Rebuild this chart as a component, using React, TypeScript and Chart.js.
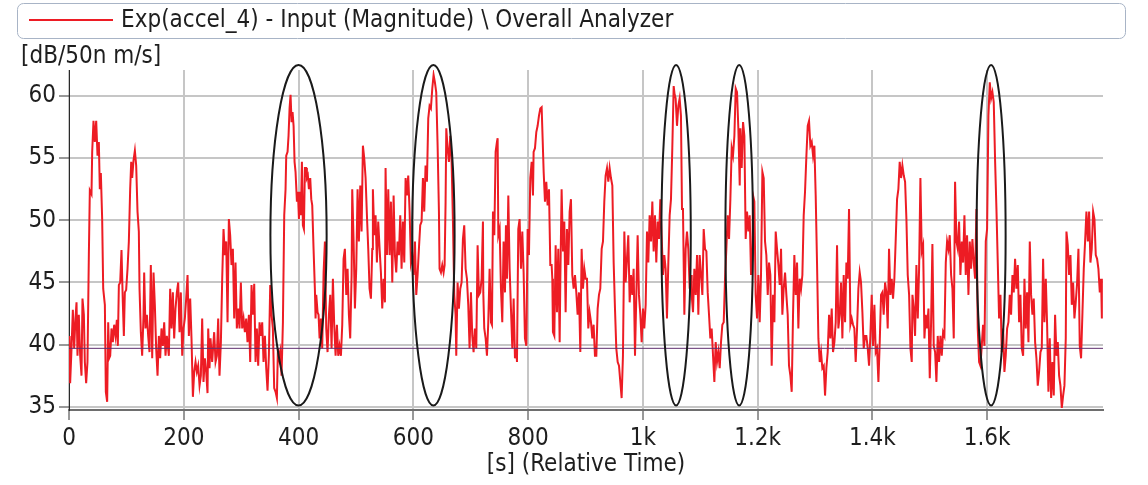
import React, { useEffect, useRef } from "react";
import { Chart, registerables } from "chart.js";

Chart.register(...registerables);

// Overall level of accel_4 over the run, seconds (relative time) and dB re 50n m/s.
const timeSeconds: number[] = [
  1, 2, 4.4, 6.7, 9, 11.3, 13.1, 14.8, 17.1, 19.5,
  21.8, 23.5, 25.9, 27.6, 29.9, 32.2, 34.6, 36.3, 39.2, 40.4,
  42.7, 45, 47.4, 49.7, 52, 53.7, 55.5, 57.8, 59.6, 62.5,
  64.2, 66.5, 68.3, 70, 71.8, 74.1, 76.4, 78.7, 81.1, 83.4,
  85.1, 86.9, 89.2, 91.5, 93.8, 95.6, 97.3, 99.6, 102, 104.3,
  106.6, 108.4, 110.1, 112.4, 114.8, 117.1, 119.4, 121.7, 122.9, 125.2,
  127.5, 129.9, 131, 133.3, 135.7, 138, 140.3, 142.6, 145, 147.3,
  149.6, 151.9, 154.3, 156.6, 158.9, 161.2, 163.6, 165.9, 168.2, 170.5,
  174, 176.3, 178.7, 181, 183.3, 185.6, 188, 190.3, 192.6, 194.9,
  197.3, 199.6, 201.9, 204.2, 206.6, 208.9, 211.2, 213.5, 215.9, 218.2,
  220.5, 222.8, 225.1, 227.5, 229.8, 232.1, 234.4, 236.8, 239.1, 241.4,
  242.6, 244.9, 246.6, 249.5, 253, 255.4, 257.7, 260, 262.3, 264.7,
  267, 269.3, 271.6, 274, 276.3, 278.6, 280.9, 283.2, 285.6, 287.9,
  290.2, 292.5, 294.9, 297.2, 299.5, 301.8, 304.2, 306.5, 308.8, 311.1,
  313.5, 315.8, 318.1, 320.4, 322.8, 325.1, 327.4, 329.7, 332.1, 334.4,
  336.7, 339, 341.4, 343.7, 346, 348.3, 350.7, 353, 355.3, 357.6,
  360, 362.3, 364.1, 366.4, 368.1, 370.4, 372.8, 375.1, 377.4, 378.6,
  380.9, 382.6, 384.4, 386.1, 387.9, 389.6, 391.4, 393.1, 394.8, 397.2,
  398.9, 400.7, 402.4, 404.1, 405.9, 407.6, 409.4, 411.1, 413.4, 414.6,
  416.3, 418.1, 420.4, 422.2, 423.9, 426.2, 428.5, 429.7, 430.9, 433.2,
  434.9, 436.7, 439, 441.3, 443.7, 446, 448.3, 450.6, 453, 455.3,
  457.6, 459.9, 462.2, 464.6, 466.9, 469.2, 471.5, 473.9, 476.2, 478.5,
  480.8, 483.2, 485.5, 487.8, 490.1, 492.5, 493.6, 496, 498.3, 500.6,
  502.9, 505.2, 507.6, 509.9, 512.2, 514.5, 516.9, 519.2, 521.5, 523.8,
  526.2, 528.5, 529.6, 532, 534.3, 536.6, 538.9, 541.3, 543.6, 545.9,
  548.2, 550.6, 551.7, 554.1, 556.4, 558.7, 561, 563.4, 565.7, 568,
  570.3, 572.6, 575, 577.3, 579.6, 581.9, 584.3, 586.6, 588.9, 591.2,
  593.6, 595.9, 598.2, 600.5, 602.9, 605.2, 607.5, 609.8, 612.1, 614.5,
  616.8, 619.1, 621.4, 623.8, 626.1, 628.4, 630.7, 633.1, 635.4, 637.7,
  640, 642.4, 644.7, 645.8, 648.2, 650.5, 652.8, 654.6, 656.3, 657.5,
  659.8, 662.1, 664.4, 666.8, 669.1, 671.4, 673.7, 674.9, 677.2, 679.5,
  681.9, 684.2, 686.5, 688.8, 691.2, 693.5, 695.8, 698.1, 700.5, 702.8,
  705.1, 707.4, 709.8, 712.1, 714.4, 716.7, 719.1, 721.4,
  722, 723.7, 726.1, 728.4, 730.7, 733, 735.4, 737.1, 738.9, 741.2,
  743.5, 745.8, 747, 748.2, 750.5, 752.8, 755.1, 757.4, 759.8, 761.5,
  763.3, 765.6, 767.9, 770.2, 772.6, 774.9, 777.2, 779.5, 780.7, 783,
  785.3, 787.7, 790, 792.3, 794.6, 797, 799.3, 801.6, 803.9, 806.3,
  808.6, 809.7, 812.1, 814.4, 816.7, 819, 821.4, 823.7, 825.4, 827.2,
  829.5, 831.8, 834.1, 836.5, 838.8, 841.1, 842.3, 843.4, 845.8, 848.1,
  850.4, 852.7, 855.1, 856.2, 858.5, 860.9, 863.2, 865.5, 867.8, 870.2,
  872.5, 874.8, 877.1, 879.5, 881.8, 884.1, 886.4, 888.8, 891.1, 893.4,
  895.7, 898.1, 900.4, 902.7, 905, 907.3, 909.7, 912, 914.3, 916.6,
  919, 921.3, 923.6, 925.9, 928.3, 930.6, 932.9, 935.2, 937.6, 939.9,
  942.2, 944.5, 946.9, 949.2, 951.5, 953.8, 956.2, 958.5, 960.8, 963.1,
  965.4, 967.8, 970.1, 972.4, 974.7, 977.1, 979.4, 981.7, 984, 986.4,
  988.7, 991, 993.3, 995.7, 998, 1000.3, 1002.6, 1005, 1007.3, 1009.6,
  1011.9, 1014.3, 1016.6, 1018.9, 1021.2, 1023.5, 1025.9, 1028.2, 1030.5, 1032.8,
  1035.2, 1037.5, 1039.8, 1042.1, 1044.5, 1046.8, 1049.1, 1051.4, 1053.8, 1055.5,
  1057.2, 1059.6, 1061.9, 1064.2, 1066.5, 1068.3, 1070, 1072.4, 1074.7, 1077,
  1079.3, 1081.7, 1084,
  1085.2, 1087.5, 1089.8, 1092.2, 1094.5, 1096.8, 1099.1, 1101.5, 1103.8, 1106.1,
  1108.4, 1110.8, 1113.1, 1115.4, 1117.7, 1120, 1122.4, 1124.7, 1127, 1129.3,
  1131.7, 1134, 1136.3, 1138.6, 1141, 1143.3, 1145.6, 1147.9, 1150.3, 1152.6,
  1154.9, 1157.2, 1159.6, 1161.9, 1164.2, 1166.5, 1168.9, 1170, 1172.3, 1174.7,
  1177, 1179.3, 1181.6, 1184, 1186.3, 1188.6, 1190.9, 1192.1, 1194.4, 1196.7,
  1199.1, 1201.4, 1203.7, 1206, 1208.4, 1210.7, 1213, 1215.3, 1217.7, 1220,
  1222.3, 1224.6, 1227, 1229.3, 1231.6, 1233.9, 1236.3, 1238.6, 1240.9, 1243.2,
  1245.5, 1247.9, 1250.2, 1252.5, 1254.8, 1257.2, 1259.5, 1261.8, 1264.1, 1266.5,
  1268.8, 1271.1, 1273.4, 1275.8, 1278.1, 1280.4, 1282.7, 1285.1, 1287.4, 1289.7,
  1292, 1294.4, 1296.7, 1299, 1301.3, 1303.6, 1306, 1308.3, 1310.6, 1312.9,
  1315.3, 1317.6, 1319.9, 1322.2, 1324.6, 1326.9, 1329.2, 1331.5, 1333.9, 1336.2,
  1338.5, 1340.8, 1343.2, 1345.5, 1347.8, 1350.1, 1352.5, 1354.8, 1357.1, 1359.4,
  1361.8, 1364.1, 1366.4, 1368.7, 1371, 1373.4, 1375.7, 1378, 1380.3, 1382.7,
  1385, 1387.3, 1389.6, 1392, 1394.3, 1396.6, 1398.9, 1401.3, 1403.6, 1405.9,
  1408.2, 1410.6, 1412.9, 1415.2, 1417.5, 1419.8, 1422.2, 1424.5, 1426.8, 1429.1,
  1431.5, 1433.8, 1436.1, 1438.4, 1440.8, 1443.1, 1445.4, 1447.7,
  1450.1, 1452.4, 1454.8, 1457.1, 1459.4, 1461.7, 1464.1, 1466.4, 1468.7, 1469.9,
  1472.2, 1474.5, 1476.8, 1479.2, 1481.5, 1483.8, 1486.1, 1488.5, 1490.8, 1493.1,
  1495.4, 1497.8, 1500.1, 1502.4, 1504.7, 1507, 1509.4, 1511.7, 1514, 1516.3,
  1518.7, 1521, 1523.3, 1525.6, 1528, 1530.3, 1532.6, 1534.9, 1537.3, 1539.6,
  1541.9, 1544.2, 1546.6, 1548.9, 1551.2, 1553.5, 1555.9, 1558.2, 1560.5, 1562.8,
  1565.1, 1567.5, 1569.8, 1572.1, 1574.4, 1576.8, 1579.1, 1581.4, 1583.7, 1586.1,
  1588.4, 1590.7, 1593, 1595.4, 1597.7, 1600, 1602.3, 1604.7, 1607, 1609.3,
  1611.6, 1614, 1616.3, 1618.6, 1620.9, 1623.3, 1625.6, 1627.9, 1630.2, 1632.5,
  1634.9, 1637.2, 1639.5, 1641.8, 1644.2, 1646.5, 1648.8, 1651.1, 1653.5, 1655.8,
  1658.1, 1660.4, 1662.8, 1665.1, 1667.4, 1669.7, 1672.1, 1674.4, 1676.7, 1679,
  1681.3, 1683.7, 1686, 1688.3, 1690.6, 1693, 1695.3, 1697.6, 1699.9, 1702.3,
  1704.6, 1706.9, 1709.2, 1711.6, 1713.9, 1716.2, 1718.5, 1720.9, 1723.2, 1725.5,
  1727.8, 1730.2, 1732.5, 1734.8, 1737.1, 1738.3, 1740.6, 1742.9, 1745.3, 1747.6,
  1749.9, 1752.2, 1754.5, 1756.9, 1759.2, 1761.5, 1763.8, 1766.2, 1768.5, 1770.8,
  1773.1, 1775.5, 1777.8, 1780.1, 1782.4, 1784.8, 1787.1, 1789.4, 1791.7, 1794,
  1796.4, 1798.7, 1800,
];

const levelDb: number[] = [
  40.7, 36.9, 39.7, 42.8, 39.7, 42.1, 43.4, 39.1, 42.4, 39.1,
  37.5, 43.7, 42.4, 38.6, 36.9, 38.6, 47.2, 52.4, 52.1, 55.5,
  58.0, 56.3, 58.0, 55.2, 56.3, 52.5, 53.8, 50.1, 44.5, 43.2,
  36.2, 35.4, 41.8, 38.9, 39.1, 41.3, 40.2, 41.6, 40.7, 42.0,
  39.9, 44.8, 45.0, 47.6, 43.4, 40.7, 44.2, 44.4, 46.1, 48.3,
  52.5, 54.7, 53.4, 54.8, 55.6, 54.4, 50.7, 49.1, 44.5, 41.0,
  39.1, 42.4, 45.8, 41.3, 42.4, 40.7, 39.4, 46.4, 38.9, 45.8,
  43.2, 39.7, 37.5, 40.7, 38.9, 41.3, 39.9, 41.8, 39.1, 40.7,
  39.1, 44.5, 41.3, 44.2, 40.5, 42.9, 44.2, 45.0, 41.0, 44.2,
  39.1, 41.3, 42.1, 43.7, 45.6, 40.7, 43.7, 40.5, 35.8, 37.8,
  38.6, 37.8, 38.3, 36.7, 37.5, 42.1, 37.0, 38.9, 37.8, 36.1,
  41.3, 38.1, 40.5, 38.6, 41.0, 38.6, 39.1, 42.1, 37.5, 40.2,
  45.3, 49.3, 47.2, 48.3, 41.8, 50.1, 48.8, 46.4, 47.7, 42.1,
  46.6, 41.3, 42.9, 41.3, 45.0, 41.3, 42.1, 41.0, 42.1, 40.2,
  42.4, 38.6, 44.8, 42.4, 44.9, 38.6, 41.3, 38.3, 41.8, 40.7,
  41.8, 38.6, 40.7, 38.1, 36.3, 39.1, 44.8, 42.4, 41.3, 36.5,
  36.2, 35.7, 39.7, 38.9, 39.4, 37.5, 41.8, 50.4, 52.5, 55.2,
  55.5, 56.8, 59.0, 60.1, 57.9, 58.7, 57.6, 54.7, 53.9, 51.5,
  52.3, 50.1, 52.3, 50.4, 54.7, 49.6, 49.3, 54.2, 54.2, 53.4,
  53.6, 52.5, 53.4, 51.7, 51.2, 47.7, 44.5, 42.1, 44.0, 42.6,
  42.4, 40.5, 42.1, 39.7, 45.8, 48.3, 41.3, 39.4, 42.4, 44.0,
  39.7, 45.3, 41.6, 39.1, 41.6, 39.1, 39.9, 39.1, 41.6, 46.9,
  47.7, 44.0, 46.1, 42.4, 40.5, 45.6, 52.5, 48.3, 42.9, 46.1,
  52.5, 48.3, 52.8, 49.1, 56.0, 55.0, 53.4, 50.4, 47.7, 44.5,
  43.7, 47.7, 52.5, 48.8, 50.4, 46.6, 49.9, 47.7, 45.8, 42.9,
  45.3, 43.4, 54.2, 47.2, 52.5, 47.2, 51.5, 45.0, 52.0, 47.2,
  45.8, 48.3, 47.2, 50.4, 46.1, 49.9, 46.6, 53.4, 52.0, 53.6,
  50.7, 46.6, 47.2, 45.6, 48.3, 44.0, 45.6, 47.7, 49.6, 49.9,
  53.4, 50.7, 54.4, 53.1, 58.2, 59.2, 59.0, 60.6, 61.7, 61.1,
  60.3, 56.0, 50.7, 46.1, 45.8, 46.4, 45.8, 46.4, 51.5, 57.4,
  55.8, 54.7, 56.8, 54.7, 49.9, 44.0, 42.4, 39.1, 45.0, 42.9,
  44.5, 45.0, 48.5, 49.6, 46.1, 45.3, 43.2, 39.7, 44.2, 40.7,
  39.4, 41.3, 39.7, 48.0, 44.0, 44.2, 45.3, 49.9,
  44.2, 41.3, 40.5, 39.1, 41.8, 46.1, 41.8, 41.6, 50.7, 48.8,
  55.5, 56.3, 56.6, 48.8, 49.3, 44.5, 41.8, 48.3, 44.2, 49.6,
  45.3, 52.0, 46.1, 42.9, 39.7, 43.7, 38.9, 39.7, 38.6, 49.3,
  50.1, 46.1, 49.1, 45.8, 40.5, 39.9, 49.3, 47.2, 53.4, 54.7,
  52.0, 55.5, 55.8, 57.1, 57.6, 58.4, 59.0, 59.1, 56.6, 53.9,
  51.5, 53.1, 51.2, 52.5, 46.4, 46.4, 45.3, 41.0, 40.7, 48.0,
  42.6, 47.7, 40.2, 45.0, 52.5, 47.5, 49.9, 42.6, 49.3, 46.4,
  50.7, 51.7, 45.6, 44.5, 45.6, 44.2, 42.4, 44.2, 39.4, 47.7,
  44.5, 46.1, 45.3, 45.3, 41.3, 42.6, 41.8, 40.5, 41.6, 39.1,
  39.1, 42.9, 44.0, 44.5, 47.7, 48.3, 51.5, 53.6, 54.2, 53.1,
  54.2, 53.4, 52.8, 46.6, 42.9, 39.7, 38.6, 38.3, 37.0, 35.7,
  39.1, 49.1, 45.0, 46.9, 48.8, 43.4, 45.6, 44.0, 46.1, 39.1,
  44.0, 48.8, 44.0, 42.4, 40.2, 42.9, 41.3, 43.2, 49.1, 46.6,
  50.4, 48.3, 51.5, 47.5, 50.4, 46.6, 49.9, 48.5, 51.7, 48.8,
  45.6, 47.2, 46.1, 42.1, 46.6, 50.4, 51.7, 55.8, 60.8, 60.1,
  59.8, 57.6, 59.2, 59.8, 58.4, 50.9, 50.9, 42.4, 47.7, 49.1,
  47.7, 44.5, 45.6,
  44.0, 42.6, 46.1, 44.0, 47.2, 42.4, 47.2, 45.6, 44.0, 49.3,
  47.7, 47.5, 44.2, 42.4, 40.5, 41.3, 39.1, 37.0, 40.2, 38.6,
  39.4, 38.1, 40.2, 41.6, 41.8, 45.3, 47.7, 50.4, 48.5, 51.7,
  55.8, 55.2, 56.8, 60.6, 60.3, 57.4, 52.8, 57.4, 54.2, 57.9,
  56.8, 48.5, 50.7, 49.1, 50.4, 45.6, 46.9, 52.0, 51.5, 44.0,
  42.1, 45.6, 41.8, 45.6, 53.9, 53.4, 48.3, 47.2, 44.0, 46.6,
  45.6, 38.3, 44.0, 41.8, 49.1, 47.7, 46.4, 44.8, 47.7, 42.4,
  44.5, 45.8, 44.0, 42.4, 38.3, 37.5, 36.2, 42.4, 47.2, 44.0,
  46.6, 41.3, 45.3, 44.5, 45.6, 50.4, 52.3, 55.2, 57.6, 58.0,
  56.0, 56.3, 55.2, 56.0, 52.0, 46.6, 40.5, 38.6, 39.4, 38.1,
  38.3, 35.9, 38.1, 39.4, 42.4, 40.5, 42.9, 39.4, 40.2, 41.8,
  48.0, 41.3, 42.4, 45.0, 40.5, 45.6, 41.8, 46.6, 45.3, 50.9,
  41.6, 42.1, 41.6, 41.3, 38.6, 41.3, 44.5, 45.8, 45.0, 42.6,
  39.7, 40.7, 40.7, 39.7, 38.3, 40.7, 44.0, 39.9, 43.2, 39.4,
  39.7, 37.0, 40.2, 44.0, 44.2, 42.4, 45.0, 44.2, 41.3, 47.7,
  44.0, 45.3, 43.7, 45.3, 48.5, 51.7, 52.5, 54.7,
  53.4, 54.4, 53.6, 53.1, 50.1, 45.6, 44.0, 39.7, 38.6, 44.0,
  42.9, 40.7, 46.4, 42.1, 46.1, 53.4, 47.5, 48.0, 40.5, 42.4,
  41.3, 42.9, 37.3, 41.8, 48.1, 39.9, 39.4, 37.0, 40.7, 38.6,
  40.7, 39.1, 41.0, 40.7, 46.6, 48.3, 47.7, 48.8, 45.6, 44.5,
  40.5, 53.1, 48.3, 47.7, 49.9, 45.6, 48.3, 46.6, 50.4, 45.6,
  48.8, 44.0, 48.3, 46.1, 48.5, 46.6, 45.3, 50.9, 41.3, 38.6,
  38.3, 39.9, 41.6, 39.9, 48.3, 49.3, 58.4, 61.1, 59.8, 60.3,
  59.5, 54.7, 50.9, 46.6, 42.1, 44.0, 39.4, 41.3, 37.8, 39.1,
  41.3, 41.8, 44.0, 42.4, 45.6, 44.2, 46.9, 44.5, 46.4, 41.8,
  44.0, 39.7, 39.1, 45.3, 41.3, 44.2, 40.2, 48.3, 44.0, 42.4,
  43.7, 40.2, 38.9, 36.7, 37.8, 39.4, 39.7, 46.9, 41.8, 45.3,
  41.6, 36.2, 40.5, 35.7, 38.6, 35.9, 42.4, 39.1, 40.2, 37.5,
  36.7, 34.9, 35.9, 36.7, 40.5, 49.1, 48.0, 45.6, 47.2, 43.2,
  45.0, 42.1, 43.4, 45.0, 47.7, 39.9, 38.9, 42.6, 46.1, 48.3,
  50.7, 48.3, 50.7, 46.6, 47.7, 50.7, 50.1, 47.2, 46.9, 46.1,
  44.2, 45.3, 42.1,
];

// Reference level drawn as a flat line across the run.
const referenceLevelDb = [39.7];

// Time windows marked with an ellipse (centre and half-width in seconds).
const markedCentersS = [400, 635, 1058, 1168, 1607];
const markedHalfWidthsS = [49, 37, 25.6, 24.1, 25.3];
const markedRangeDb = [35.1, 62.5];

const xTickValues = [0, 200, 400, 600, 800, 1000, 1200, 1400, 1600];
const xTickLabels = ["0", "200", "400", "600", "800", "1k", "1.2k", "1.4k", "1.6k"];
const yTickValues = [35, 40, 45, 50, 55, 60];

const legendLabel = "Exp(accel_4) - Input (Magnitude) \\ Overall Analyzer";
const yTitle = "[dB/50n m/s]";
const xTitle = "[s] (Relative Time)";

const FONT = '"DejaVu Sans Condensed", "Liberation Sans", Arial, sans-serif';
const LINE_RED = "#ed1c24";
const TEXT = "#1e1e1e";

const decorations = {
  id: "decorations",
  afterDatasetsDraw(chart: any) {
    const { ctx, scales } = chart;
    const x = scales.x;
    const y = scales.y;
    const top = y.getPixelForValue(markedRangeDb[1]);
    const bottom = y.getPixelForValue(markedRangeDb[0]);
    const cy = (top + bottom) / 2;
    const ry = (bottom - top) / 2;
    ctx.save();
    ctx.strokeStyle = "#1a1a1a";
    ctx.lineWidth = 2;
    markedCentersS.forEach((c, i) => {
      const cx = x.getPixelForValue(c);
      const rx = x.getPixelForValue(c + markedHalfWidthsS[i]) - cx;
      ctx.beginPath();
      ctx.ellipse(cx, cy, rx, ry, 0, 0, Math.PI * 2);
      ctx.stroke();
    });
    ctx.restore();
  },
  afterDraw(chart: any) {
    const { ctx, chartArea } = chart;
    ctx.save();
    // legend frame
    ctx.strokeStyle = "#a8b4c6";
    ctx.lineWidth = 1;
    ctx.beginPath();
    (ctx as any).roundRect(17.5, 3.5, 1108, 35, 6);
    ctx.stroke();
    ctx.strokeStyle = LINE_RED;
    ctx.lineWidth = 2;
    ctx.beginPath();
    ctx.moveTo(29, 20);
    ctx.lineTo(113, 20);
    ctx.stroke();
    ctx.fillStyle = TEXT;
    ctx.font = `24px ${FONT}`;
    ctx.textBaseline = "middle";
    ctx.textAlign = "left";
    ctx.fillText(legendLabel, 121, 21);
    // axis titles
    ctx.fillText(yTitle, 21, 57);
    ctx.textAlign = "center";
    ctx.fillText(xTitle, (chartArea.left + chartArea.right) / 2, 465);
    ctx.restore();
  },
};

export default function App() {
  const canvasRef = useRef<HTMLCanvasElement>(null);

  useEffect(() => {
    const canvas = canvasRef.current;
    if (!canvas) return;
    const series = timeSeconds.map((t, i) => ({ x: t, y: levelDb[i] }));
    const reference = [
      { x: 0, y: referenceLevelDb[0] },
      { x: 1802, y: referenceLevelDb[0] },
    ];
    const chart = new Chart(canvas, {
      type: "line",
      data: {
        datasets: [
          {
            data: reference,
            borderColor: "#5e2d6e",
            borderWidth: 1,
            pointRadius: 0,
            fill: false,
          },
          {
            data: series,
            borderColor: LINE_RED,
            borderWidth: 2,
            pointRadius: 0,
            tension: 0,
            fill: false,
          },
        ],
      },
      options: {
        animation: false,
        responsive: false,
        devicePixelRatio: 1,
        events: [],
        layout: { padding: { left: 0, right: 45, top: 70, bottom: 0 } },
        plugins: { legend: { display: false }, tooltip: { enabled: false } },
        scales: {
          x: {
            type: "linear",
            min: 0,
            max: 1802,
            afterBuildTicks: (s: any) => {
              s.ticks = xTickValues.map((v) => ({ value: v }));
            },
            afterFit: (s: any) => {
              s.height = 75;
            },
            grid: {
              color: "#c6c6c6",
              lineWidth: 2,
              tickColor: "#333333",
              tickWidth: 1,
              tickLength: 10,
            },
            border: { color: "#6e6e6e", width: 2 },
            ticks: {
              autoSkip: false,
              maxRotation: 0,
              padding: 4,
              color: TEXT,
              font: { family: FONT, size: 24 },
              callback: (v: any) => {
                const i = xTickValues.indexOf(Number(v));
                return i >= 0 ? xTickLabels[i] : "";
              },
            },
          },
          y: {
            type: "linear",
            min: 34.74,
            max: 62.09,
            afterBuildTicks: (s: any) => {
              s.ticks = yTickValues.map((v) => ({ value: v }));
            },
            afterFit: (s: any) => {
              s.width = 69;
            },
            grid: {
              color: "#c6c6c6",
              lineWidth: 2,
              tickColor: "#333333",
              tickWidth: 1,
              tickLength: 10,
            },
            border: { color: "#2a2a2a", width: 1 },
            ticks: {
              padding: 3,
              color: TEXT,
              font: { family: FONT, size: 24 },
              callback: (v: any) => String(v),
            },
          },
        },
      },
      plugins: [decorations],
    });
    return () => chart.destroy();
  }, []);

  return (
    <div
      style={{
        position: "fixed",
        left: 0,
        top: 0,
        width: 1148,
        height: 485,
        background: "#ffffff",
      }}
    >
      <canvas ref={canvasRef} width={1148} height={485} style={{ display: "block" }} />
    </div>
  );
}
